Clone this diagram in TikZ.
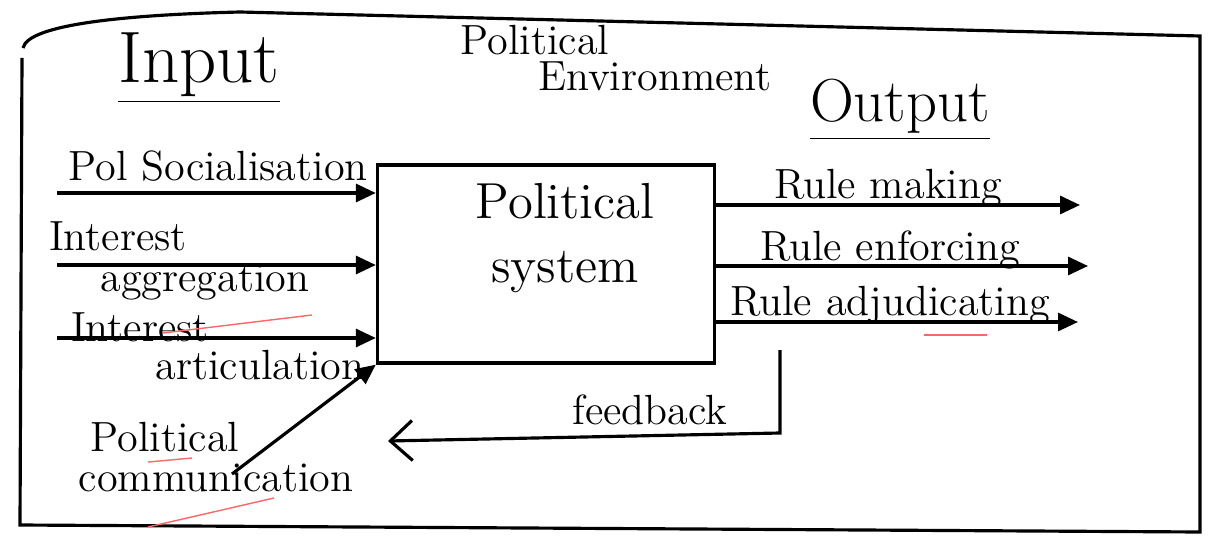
\documentclass[tikz,border=0pt]{standalone}
\usetikzlibrary{arrows.meta}
\tikzset{
  pen/.style={line width=0.9pt},
  inarrow/.style={pen,-{Triangle[length=2mm,width=1.8mm]}},
  fbarrow/.style={pen,-{Straight Barb[length=2.2mm,width=4mm]}},
  redmark/.style={red!60,line width=0.4pt}
}
\begin{document}
\begin{tikzpicture}[x=0.01cm,y=-0.01cm]
\useasboundingbox (0,0) rectangle (1213,543);
% outer environment border
\draw[pen] (23,48) .. controls (28,25) and (120,15) .. (240,12) -- (1200,36) -- (1200,532) -- (20,525) -- (22,58);
\node at (535,40) [font=\large] (env1) {Political};
\node at (655,76) [font=\large] (env2) {Environment};
\node at (199,68) [font=\huge] (input) {\underline{Input}};
\node at (900,110) [font=\LARGE] (output) {\underline{Output}};
% the system
\node at (546,264) [draw,pen,minimum width=3.37cm,minimum height=1.98cm] (sys) {};
\node at (565,238) [font=\Large,align=center] (systxt) {Political\\system};
% inputs
\coordinate (in1) at (57,193);
\coordinate (in2) at (57,265);
\coordinate (in3) at (57,338);
\node at (218,166) [font=\large] (l1) {Pol Socialisation};
\node at (118,236) [font=\large] (l2a) {Interest};
\node at (205,282) [font=\large] (l2b) {aggregation};
\node at (140,327) [font=\large] (l3a) {Interest};
\node at (260,365) [font=\large] (l3b) {articulation};
\draw[inarrow] (in1) -- (in1 -| sys.west);
\draw[inarrow] (in2) -- (in2 -| sys.west);
\draw[inarrow] (in3) -- (in3 -| sys.west);
\node at (165,437) [font=\large] (pc1) {Political};
\node at (216,478) [font=\large] (pc2) {communication};
\coordinate (pc) at (232,474);
\draw[inarrow] (pc) -- (sys.south west);
% outputs
\coordinate (o1) at (1080,205);
\coordinate (o2) at (1088,266);
\coordinate (o3) at (1078,322);
\node at (888,188) [font=\large] (r1) {Rule making};
\node at (890,250) [font=\large] (r2) {Rule enforcing};
\node at (890,305) [font=\large] (r3) {Rule adjudicating};
\draw[inarrow] (o1 -| sys.east) -- (o1);
\draw[inarrow] (o2 -| sys.east) -- (o2);
\draw[inarrow] (o3 -| sys.east) -- (o3);
% feedback
\coordinate (fb1) at (780,350);
\coordinate (fb2) at (780,433);
\coordinate (fb3) at (388,441);
\draw[fbarrow] (fb1) -- (fb2) -- (fb3);
\node at (650,410) [font=\large] (fb) {feedback};
% red marks
\draw[redmark] (312,315) -- (163,333);
\draw[redmark] (192,458) -- (148,462);
\draw[redmark] (274,498) -- (148,527);
\draw[redmark] (924,335) -- (987,335);
\end{tikzpicture}
\end{document}
